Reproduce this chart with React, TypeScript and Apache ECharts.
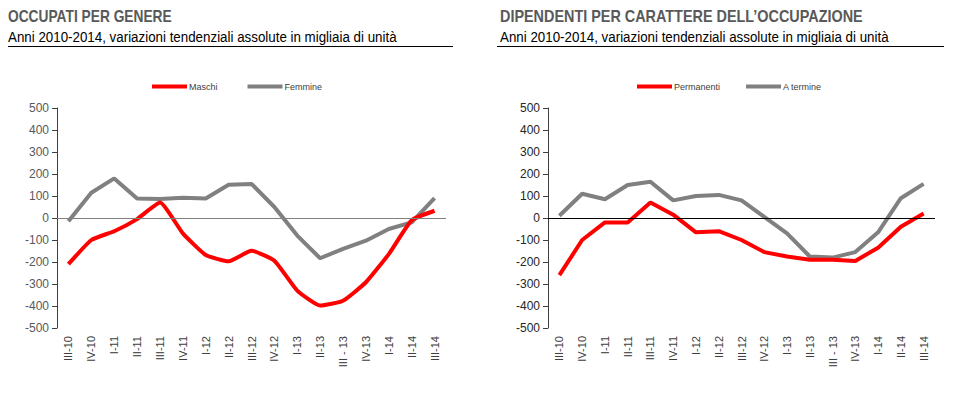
import React, { useEffect, useRef } from "react";
import * as echarts from "echarts";

const categories = ["III-10", "IV-10", "I-11", "II-11", "III-11", "IV-11", "I-12", "II-12", "III-12", "IV-12", "I-13", "II-13", "III - 13", "IV-13", "I-14", "II-14", "III-14"];
const maschi = [-210, -100, -60, -5, 70, -70, -168, -197, -149, -194, -330, -398, -376, -292, -164, -10, 33];
const femmine = [-15, 115, 180, 89, 86, 92, 89, 151, 155, 50, -80, -183, -140, -103, -50, -20, 90];
const permanenti = [-260, -100, -20, -20, 70, 15, -65, -60, -100, -155, -175, -190, -190, -195, -135, -40, 20];
const aTermine = [10, 110, 85, 150, 165, 80, 100, 105, 80, 5, -70, -175, -180, -155, -65, 90, 155];
const yTicks = { min: -500, max: 500, interval: 100 };

const leftTitle = "OCCUPATI PER GENERE";
const rightTitle = "DIPENDENTI PER CARATTERE DELL\u2019OCCUPAZIONE";
const subTitle = "Anni 2010-2014, variazioni tendenziali assolute in migliaia di unità";

const RED = "#ff0000";
const GRAY = "#808080";
const SANS = "'Liberation Sans', Arial, sans-serif";

export default function App() {
  const ref = useRef<HTMLDivElement>(null);
  useEffect(() => {
    if (!ref.current) return;
    const chart = echarts.init(ref.current, undefined, { renderer: "svg" });
    const xAxisBase = (gridIndex: number) => ({
      type: "category",
      gridIndex,
      data: categories,
      boundaryGap: true,
      axisLine: { show: false, onZero: false },
      axisTick: { show: false },
      axisLabel: { rotate: 90, fontSize: 11, color: "#404040", fontFamily: SANS, margin: 8, interval: 0 },
      splitLine: { show: false },
    });
    const yAxisBase = (gridIndex: number, labelColor: string) => ({
      type: "value",
      gridIndex,
      ...yTicks,
      axisLine: { show: true, lineStyle: { color: "#404040", width: 1 } },
      axisTick: { show: true, length: 5, lineStyle: { color: "#404040" } },
      axisLabel: { fontSize: 12, color: labelColor, fontFamily: SANS, margin: 8 },
      splitLine: { show: false },
    });
    const zeroLine = (color: string) => ({
      silent: true,
      symbol: ["none", "none"],
      label: { show: false },
      lineStyle: { color, width: 1, type: "solid" },
      data: [{ yAxis: 0 }],
    });
    const lineSeries = (name: string, data: number[], color: string, idx: number, smooth: number | boolean, mark?: any) => ({
      name,
      type: "line",
      xAxisIndex: idx,
      yAxisIndex: idx,
      data,
      smooth,
      symbol: "none",
      lineStyle: { color, width: 4 },
      itemStyle: { color },
      z: color === RED ? 4 : 3,
      ...(mark ? { markLine: mark } : {}),
    });
    const legendBase = {
      top: 82,
      padding: 0,
      icon: "rect",
      itemWidth: 35,
      itemHeight: 4,
      textStyle: { fontSize: 9, color: "#404040", fontFamily: SANS, padding: [0, 0, 0, -3] },
    };
    chart.setOption({
      animation: false,
      backgroundColor: "#ffffff",
      grid: [
        { left: 57, right: 521, top: 108, bottom: 66 },
        { left: 548, right: 32, top: 108, bottom: 66 },
      ],
      legend: [
        { ...legendBase, data: ["Maschi", "Femmine"], left: 152, itemGap: 30 },
        { ...legendBase, data: ["Permanenti", "A termine"], left: 637, itemGap: 26 },
      ],
      xAxis: [xAxisBase(0), xAxisBase(1)],
      yAxis: [yAxisBase(0, "#595959"), yAxisBase(1, "#262626")],
      series: [
        lineSeries("Femmine", femmine, GRAY, 0, false, zeroLine("#808080")),
        lineSeries("Maschi", maschi, RED, 0, 0.15),
        lineSeries("A termine", aTermine, GRAY, 1, false, zeroLine("#000000")),
        lineSeries("Permanenti", permanenti, RED, 1, false),
      ],
      graphic: [
        { type: "text", x: 8, y: 16, scaleX: 0.86, style: { text: leftTitle, font: `bold 16px ${SANS}`, fill: "#595959", verticalAlign: "middle" } },
        { type: "text", x: 8, y: 37, scaleX: 0.89, style: { text: subTitle, font: `15px ${SANS}`, fill: "#000000", verticalAlign: "middle" } },
        { type: "line", shape: { x1: 8, y1: 46.5, x2: 453, y2: 46.5 }, style: { stroke: "#000000", lineWidth: 1 } },
        { type: "text", x: 500, y: 16, scaleX: 0.9, style: { text: rightTitle, font: `bold 16px ${SANS}`, fill: "#595959", verticalAlign: "middle" } },
        { type: "text", x: 500, y: 37, scaleX: 0.89, style: { text: subTitle, font: `15px ${SANS}`, fill: "#000000", verticalAlign: "middle" } },
        { type: "line", shape: { x1: 497, y1: 46.5, x2: 944, y2: 46.5 }, style: { stroke: "#000000", lineWidth: 1 } },
      ],
    });
    return () => chart.dispose();
  }, []);
  return <div ref={ref} style={{ position: "fixed", left: 0, top: 0, width: 967, height: 394 }} />;
}
